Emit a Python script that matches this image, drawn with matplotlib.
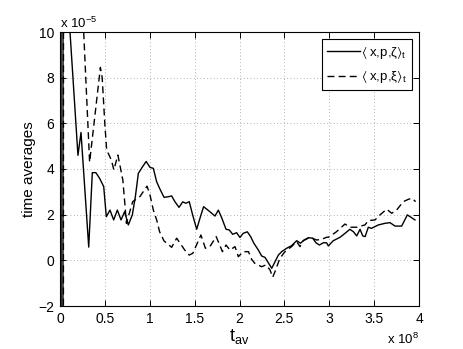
import matplotlib
matplotlib.use("Agg")
import matplotlib.pyplot as plt

plt.rcParams['font.family'] = ['Liberation Sans', 'DejaVu Sans']
plt.rcParams['mathtext.fontset'] = 'custom'
plt.rcParams['mathtext.rm'] = 'Liberation Sans'
plt.rcParams['mathtext.it'] = 'Liberation Sans:italic'
plt.rcParams['mathtext.bf'] = 'Liberation Sans:bold'
plt.rcParams['mathtext.fallback'] = 'stixsans'

# t_av in units of 1e8, values in units of 1e-5
t_zeta = [0.01, 0.015, 0.03, 0.035, 0.1, 0.2, 0.234, 0.32, 0.36, 0.40, 0.44, 0.487,
          0.516, 0.557, 0.598, 0.639, 0.68, 0.72, 0.761, 0.806, 0.84, 0.873, 0.92,
          0.96, 1.003, 1.04, 1.077, 1.11, 1.159, 1.2, 1.244, 1.28, 1.326, 1.367,
          1.404, 1.44, 1.478, 1.523, 1.56, 1.6, 1.67, 1.727, 1.764, 1.8, 1.85,
          1.886, 1.924, 1.968, 2.005, 2.04, 2.087, 2.124, 2.16, 2.21, 2.247,
          2.284, 2.32, 2.359, 2.396, 2.433, 2.47, 2.526, 2.58, 2.637, 2.68, 2.72,
          2.767, 2.816, 2.852, 2.89, 2.934, 2.97, 2.99, 3.045, 3.12, 3.175, 3.23,
          3.27, 3.306, 3.343, 3.373, 3.40, 3.435, 3.47, 3.547, 3.62, 3.677,
          3.733, 3.807, 3.87, 3.955]
v_zeta = [50, -50, -50, 30, 10.7, 4.6, 5.6, 0.58, 3.84, 3.84, 3.6, 3.23,
          1.91, 2.2, 1.77, 2.2, 1.77, 2.13, 1.55, 1.99, 2.8, 3.81, 4.1,
          4.33, 4.07, 4.03, 3.44, 3.15, 2.76, 2.78, 2.82, 2.57, 2.32, 2.56,
          2.5, 2.57, 1.99, 1.36, 1.85, 2.35, 2.13, 1.94, 2.2, 1.88, 1.36,
          1.33, 1.14, 1.21, 1.0, 1.18, 1.25, 1.04, 0.75, 0.45, 0.19,
          0.13, -0.10, -0.35, -0.06, 0.23, 0.38, 0.53, 0.64, 0.86, 0.75, 0.89,
          0.99, 0.97, 0.77, 0.67, 0.77, 0.77, 0.63, 0.86, 1.01, 1.18, 1.36,
          1.25, 1.07, 1.36, 1.07, 1.04, 1.45, 1.40, 1.55, 1.62, 1.65,
          1.50, 1.50, 1.99, 1.77]

t_xi = [0.035, 0.04, 0.25, 0.33, 0.45, 0.47, 0.50, 0.52, 0.573, 0.60, 0.645, 0.70,
        0.72, 0.74, 0.81, 0.89, 0.97, 1.003, 1.04, 1.077, 1.11, 1.159, 1.2, 1.244,
        1.3, 1.39, 1.44, 1.48, 1.57, 1.62, 1.67, 1.74, 1.81, 1.85, 1.894, 1.95,
        1.987, 2.04, 2.1, 2.136, 2.17, 2.247, 2.295, 2.34, 2.37, 2.396, 2.45,
        2.507, 2.58, 2.637, 2.674, 2.71, 2.786, 2.86, 2.916, 2.97, 2.99, 3.08,
        3.175, 3.23, 3.306, 3.398, 3.435, 3.51, 3.565, 3.64, 3.696, 3.75,
        3.825, 3.88, 3.92, 3.963]
v_xi = [-50, 30, 11.2, 4.3, 8.45, 8.0, 5.94, 4.83, 4.39, 3.96, 4.61, 3.52,
        2.6, 1.62, 2.57, 2.79, 3.25, 2.86, 2.2, 1.77, 1.25, 0.85, 0.72, 0.57,
        0.97, 0.45, 0.23, 0.31, 1.11, 0.53, 0.60, 1.04, 0.38, 0.67, 0.45, 0.60,
        0.16, 0.38, 0.38, 0.04, -0.13, -0.28, -0.20, -0.42, -0.74, -0.49, 0.09,
        0.38, 0.60, 0.82, 0.60, 0.86, 1.01, 0.89, 0.92, 1.01, 1.01, 1.25,
        1.59, 1.45, 1.45, 1.55, 1.74, 1.77, 1.99, 2.24, 2.06, 2.2,
        2.57, 2.67, 2.72, 2.57]

labels = [r'$\langle\;\mathrm{x{,}p{,}ζ}\rangle_\mathrm{t}$',
          r'$\langle\;\mathrm{x{,}p{,}ξ}\rangle_\mathrm{t}$']
xticks = [0, 0.5, 1, 1.5, 2, 2.5, 3, 3.5, 4]
xticklabels = ['0', '0.5', '1', '1.5', '2', '2.5', '3', '3.5', '4']
yticks = [-2, 0, 2, 4, 6, 8, 10]
yticklabels = ['\u22122', '0', '2', '4', '6', '8', '10']

fig = plt.figure(figsize=(4.63, 3.49), dpi=100)
ax = fig.add_axes([60/463, 43/349, 359/463, 274/349])

ax.plot(t_zeta, v_zeta, color='black', lw=1.0, label=labels[0])
ax.plot(t_xi, v_xi, color='black', lw=1.0, dashes=(5, 3), label=labels[1])

ax.set_xlim(0, 4)
ax.set_ylim(-2, 10)
ax.set_xticks(xticks)
ax.set_xticklabels(xticklabels)
ax.set_yticks(yticks)
ax.set_yticklabels(yticklabels)
ax.tick_params(direction='in', top=True, right=True, length=4, width=0.7,
               labelsize=10, pad=4)
for s in ax.spines.values():
    s.set_linewidth(0.8)
ax.grid(True, color='0.6', linestyle=(0, (1, 3)), linewidth=0.6)

ax.set_ylabel('time averages', fontsize=11, labelpad=2)
ax.set_xlabel(r'$\mathrm{t}_{\mathrm{av}}$', fontsize=13, labelpad=1)

ax.text(0.0, 1.005, r'x 10$^{-5}$', transform=ax.transAxes, fontsize=9.5,
        ha='left', va='bottom')
ax.text(1.0, -0.095, r'x 10$^{8}$', transform=ax.transAxes, fontsize=9.5,
        ha='right', va='top')

leg = ax.legend(loc='upper right', fontsize=9.5, handlelength=2.5,
                handletextpad=0.1, borderaxespad=0.5, fancybox=False,
                framealpha=1, edgecolor='black', borderpad=0.4, labelspacing=0.55)
leg.get_frame().set_linewidth(0.8)

fig.savefig('out.png', dpi=100)
